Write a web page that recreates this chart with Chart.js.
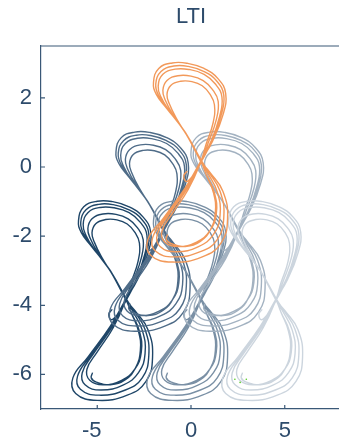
<!DOCTYPE html>
<html>
<head>
<meta charset="utf-8">
<script src="https://cdn.jsdelivr.net/npm/chart.js@4/dist/chart.umd.min.js"></script>
<style>
    html, body { margin: 0; padding: 0; background: #fff; overflow: hidden; }
    #wrap { width: 345px; height: 443px; }
</style>
</head>
<body>
<div id="wrap"><canvas id="myChart" width="345" height="443"></canvas></div>
<script>
// one figure-eight trajectory (position of the lower-left copy)
const trajX = [
    -5.25, -5.32, -5.05, -4.3, -3.5, -2.95, -2.7, -2.8, -3.2,
    -3.45,
    -4.3, -5.3, -5.85, -6.0, -5.72, -5.0, -4.2, -3.3, -2.55, -2.15, -2.3, -2.85,
    -3.5,
    -4.3, -5.5, -6.3, -6.15, -5.0, -3.4, -2.4, -2.05, -2.3, -3.0,
    -3.45,
    -4.2, -4.92, -5.37, -5.5, -5.28, -4.7, -4.0, -3.35, -2.85, -2.55, -2.65, -3.08,
    -3.48,
    -4.25, -5.35, -6.05, -5.9, -4.9, -3.5, -2.6, -2.25, -2.45, -3.05,
    -3.42,
    -4.25, -5.1, -5.6, -5.75, -5.5, -4.85, -4.1, -3.3, -2.7, -2.35, -2.48, -2.95,
    -3.5,
    -4.2, -5.2, -5.8, -5.65, -4.8, -3.6, -2.8, -2.45, -2.6, -3.1,
    -3.44,
    -4.15, -4.75, -5.15, -5.28, -5.08, -4.55, -3.95, -3.4, -2.98, -2.75, -2.82, -3.2,
    -3.47,
    -4.15, -5.0, -5.55, -5.4, -4.7, -3.7, -3.0, -2.65, -2.75, -3.2,
    -3.45,
    -4.28, -5.2, -5.72, -5.88, -5.6, -4.92, -4.15, -3.3, -2.62, -2.25, -2.4, -2.9,
    -3.48,
    -3.9, -4.25, -4.38, -4.2
];
const trajY = [
    -5.95, -6.1, -6.22, -6.3, -6.15, -5.8, -5.3, -4.75, -4.2,
    -3.86,
    -3.0, -2.3, -1.9, -1.55, -1.15, -0.99, -1.0, -1.15, -1.45, -1.88, -2.5, -3.25,
    -3.85,
    -4.6, -5.5, -6.1, -6.55, -6.75, -6.6, -6.2, -5.5, -4.7, -4.15,
    -3.85,
    -3.1, -2.52, -2.07, -1.78, -1.5, -1.36, -1.37, -1.5, -1.76, -2.1, -2.63, -3.3,
    -3.88,
    -4.6, -5.45, -6.05, -6.43, -6.6, -6.45, -6.1, -5.45, -4.7, -4.15,
    -3.84,
    -3.05, -2.42, -1.98, -1.66, -1.32, -1.17, -1.18, -1.32, -1.6, -1.98, -2.55, -3.28,
    -3.86,
    -4.62, -5.4, -5.95, -6.3, -6.45, -6.3, -5.95, -5.4, -4.72, -4.18,
    -3.88,
    -3.15, -2.62, -2.18, -1.9, -1.64, -1.52, -1.53, -1.65, -1.9, -2.2, -2.72, -3.35,
    -3.84,
    -4.65, -5.35, -5.85, -6.17, -6.3, -6.17, -5.85, -5.35, -4.75, -4.2,
    -3.86,
    -3.02, -2.36, -1.94, -1.6, -1.24, -1.08, -1.09, -1.24, -1.52, -1.93, -2.52, -3.27,
    -3.87,
    -4.25, -4.42, -4.25, -4.12
];

// shift of each copy
const copyNames = ['A', 'B', 'C', 'D', 'E', 'F'];
const copyDx = [0, 2, 4, 6, 8, 4];
const copyDy = [0, 2, 0, 2, 0, 4];

// small green marks near the bottom right
const markX = [2.34, 2.62, 2.95];
const markY = [-6.14, -6.23, -6.14];

const xTicks = [-5, 0, 5];
const xTickLabels = ['-5', '0', '5'];
const yTicks = [-6, -4, -2, 0, 2];
const yTickLabels = ['-6', '-4', '-2', '0', '2'];

const copyColors = ['#1f4668', '#4f6c88', '#7a90a5', '#a3b2c1', '#ccd5de', '#f2995a'];
const copyOrder = [6, 5, 4, 3, 2, 1];
const textColor = '#2d4b6b';
const axisColor = '#3a5877';
const fontFamily = 'Liberation Sans, Arial, sans-serif';

const datasets = copyNames.map((name, i) => ({
    label: name,
    data: trajX.map((x, k) => ({x: x + copyDx[i], y: trajY[k] + copyDy[i]})),
    showLine: true,
    borderColor: copyColors[i],
    borderWidth: 1.4,
    pointRadius: 0,
    tension: 0.45,
    order: copyOrder[i]
}));

datasets.push({
    label: 'marks',
    data: markX.map((x, k) => ({x: x, y: markY[k]})),
    showLine: false,
    pointRadius: 0.8,
    pointBorderWidth: 0,
    backgroundColor: '#55cc22',
    order: 0
});

// frame top line and inward ticks
const framePlugin = {
    id: 'frame',
    afterDraw(chart) {
        const ctx = chart.ctx;
        const a = chart.chartArea;
        const xs = chart.scales.x;
        const ys = chart.scales.y;
        ctx.save();
        ctx.strokeStyle = axisColor;
        ctx.lineWidth = 1.2;
        ctx.beginPath();
        ctx.moveTo(a.left, a.top);
        ctx.lineTo(a.right, a.top);
        xTicks.forEach(v => {
            const px = xs.getPixelForValue(v);
            ctx.moveTo(px, a.bottom);
            ctx.lineTo(px, a.bottom - 4);
        });
        yTicks.forEach(v => {
            const py = ys.getPixelForValue(v);
            ctx.moveTo(a.left, py);
            ctx.lineTo(a.left + 4, py);
        });
        ctx.stroke();
        ctx.restore();
    }
};

const ctx = document.getElementById('myChart').getContext('2d');

const chart = new Chart(ctx, {
    type: 'scatter',
    data: { datasets: datasets },
    options: {
        responsive: false,
        devicePixelRatio: 1,
        animation: false,
        layout: { padding: 0 },
        plugins: {
            legend: { display: false },
            tooltip: { enabled: false },
            title: {
                display: true,
                fullSize: false,
                text: 'LTI',
                color: textColor,
                font: { family: fontFamily, size: 22, weight: 'normal' },
                padding: { top: 4, bottom: 15.6 }
            }
        },
        scales: {
            x: {
                type: 'linear',
                min: -8,
                max: 8,
                afterBuildTicks: scale => { scale.ticks = xTicks.map(v => ({value: v})); },
                afterFit: scale => { scale.height = 34; },
                grid: { display: false, drawTicks: false },
                border: { display: true, color: axisColor, width: 1.2 },
                ticks: {
                    color: textColor,
                    padding: 9,
                    maxRotation: 0,
                    font: { family: fontFamily, size: 22 },
                    callback: function(value) {
                        const label = xTickLabels[xTicks.indexOf(value)];
                        return label.startsWith('-') ? label + '\u2002' : label;
                    }
                }
            },
            y: {
                type: 'linear',
                min: -7,
                max: 3.5,
                afterBuildTicks: scale => { scale.ticks = yTicks.map(v => ({value: v})); },
                afterFit: scale => { scale.width = 41; },
                grid: { display: false, drawTicks: false },
                border: { display: true, color: axisColor, width: 1.2 },
                ticks: {
                    color: textColor,
                    padding: 9,
                    font: { family: fontFamily, size: 22 },
                    callback: function(value) {
                        return yTickLabels[yTicks.indexOf(value)];
                    }
                }
            }
        }
    },
    plugins: [framePlugin]
});
</script>
</body>
</html>
